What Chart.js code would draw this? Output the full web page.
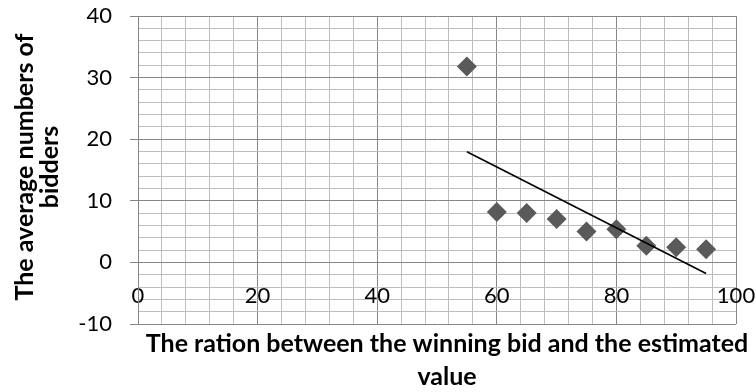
<!DOCTYPE html>
<html>
<head>
<meta charset="utf-8">
<script src="https://cdn.jsdelivr.net/npm/chart.js@4.4.1/dist/chart.umd.min.js"></script>
<style>
  html, body { margin: 0; padding: 0; background: #ffffff; }
  #wrap { width: 756px; height: 392px; }
</style>
</head>
<body>
<div id="wrap"><canvas id="c" width="756" height="392"></canvas></div>
<script>
// Winning-bid ratio (%) against average number of bidders
const ratios = [55, 60, 65, 70, 75, 80, 85, 90, 95];
const avgBidders = [31.8, 8.2, 8.0, 7.05, 5.0, 5.4, 2.7, 2.45, 2.15];

const xTickLabels = [0, 20, 40, 60, 80, 100];
const yTickLabels = [-10, 0, 10, 20, 30, 40];

const xTitleLines = ['The ration between the winning bid and the estimated', 'value'];
const yTitleLines = ['The average numbers of', 'bidders'];

// Linear (least-squares) trendline over the observed points
function linearFit(xs, ys) {
  const n = xs.length;
  const mx = xs.reduce((a, b) => a + b, 0) / n;
  const my = ys.reduce((a, b) => a + b, 0) / n;
  let sxy = 0, sxx = 0;
  for (let i = 0; i < n; i++) {
    sxy += (xs[i] - mx) * (ys[i] - my);
    sxx += (xs[i] - mx) * (xs[i] - mx);
  }
  const slope = sxy / sxx;
  return x => my + slope * (x - mx);
}
const fit = linearFit(ratios, avgBidders);
const trendX = [ratios[0], ratios[ratios.length - 1]];

const MAJOR = '#868686';
const MINOR = '#bdbdbd';
const TICK_FONT = { family: 'Lato', size: 22 };
const TITLE_FONT = 'bold 25px Lato';

const axisTitles = {
  id: 'axisTitles',
  afterDraw(chart) {
    const { ctx, chartArea } = chart;
    ctx.save();
    ctx.fillStyle = '#000000';
    ctx.font = TITLE_FONT;
    ctx.textAlign = 'center';
    ctx.textBaseline = 'alphabetic';
    const cx = (chartArea.left + chartArea.right) / 2 + 10;
    ctx.fillText(xTitleLines[0], cx, chartArea.bottom + 28);
    ctx.fillText(xTitleLines[1], cx, chartArea.bottom + 61);
    const cy = (chartArea.top + chartArea.bottom) / 2 - 3;
    ctx.translate(0, cy);
    ctx.rotate(-Math.PI / 2);
    ctx.fillText(yTitleLines[0], 0, 33);
    ctx.fillText(yTitleLines[1], 0, 58);
    ctx.restore();
  }
};

new Chart(document.getElementById('c'), {
  data: {
    datasets: [
      {
        type: 'scatter',
        data: ratios.map((x, i) => ({ x, y: avgBidders[i] })),
        pointStyle: 'rectRot',
        pointRadius: 10,
        pointHoverRadius: 10,
        backgroundColor: '#5a5a5a',
        borderColor: '#5a5a5a',
        borderWidth: 0,
        order: 2
      },
      {
        type: 'line',
        data: trendX.map(x => ({ x, y: fit(x) })),
        borderColor: '#000000',
        borderWidth: 1.6,
        pointRadius: 0,
        fill: false,
        order: 1
      }
    ]
  },
  options: {
    responsive: false,
    animation: false,
    devicePixelRatio: 1,
    layout: { padding: { left: 0, top: 16, right: 20, bottom: 68 } },
    plugins: { legend: { display: false }, tooltip: { enabled: false } },
    scales: {
      x: {
        type: 'linear',
        min: 0,
        max: 100,
        position: { y: 0 },
        afterFit(scale) { scale.paddingLeft = 0; scale.paddingRight = 0; },
        ticks: {
          stepSize: 4,
          autoSkip: false,
          maxRotation: 0,
          padding: 20,
          color: '#000000',
          font: TICK_FONT,
          callback: v => (xTickLabels.includes(v) ? String(v) : '')
        },
        grid: {
          drawTicks: false,
          lineWidth: 1,
          color: c => (c.tick && c.tick.value % 20 === 0 ? MAJOR : MINOR)
        },
        border: { color: MAJOR, width: 1 }
      },
      y: {
        type: 'linear',
        min: -10,
        max: 40,
        afterFit(scale) { scale.width = 138; scale.paddingTop = 0; scale.paddingBottom = 0; },
        ticks: {
          stepSize: 2,
          autoSkip: false,
          padding: 18,
          color: '#000000',
          font: TICK_FONT,
          callback: v => (yTickLabels.includes(v) ? String(v) : '')
        },
        grid: {
          drawTicks: true,
          tickLength: 8,
          lineWidth: 1,
          color: c => (c.tick && c.tick.value % 10 === 0 ? MAJOR : MINOR),
          tickColor: c => (c.tick && c.tick.value % 10 === 0 ? MAJOR : 'rgba(0,0,0,0)')
        },
        border: { color: MAJOR, width: 1 }
      }
    }
  },
  plugins: [axisTitles]
});
</script>
</body>
</html>
